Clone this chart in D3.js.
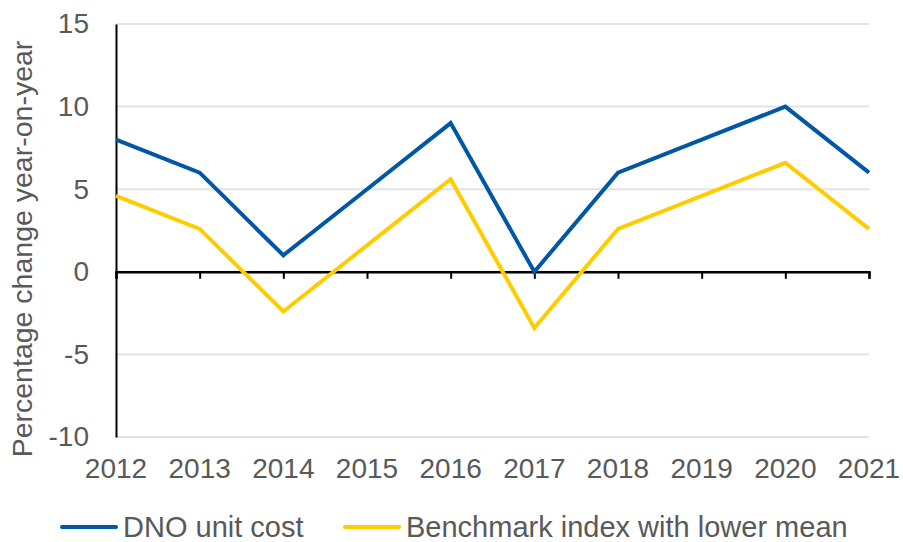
<!DOCTYPE html>
<html>
<head>
<meta charset="utf-8">
<script src="https://cdn.jsdelivr.net/npm/d3@7"></script>
<style>
  html, body { margin: 0; padding: 0; background: #fff; }
  svg { display: block; font-family: "Liberation Sans", Arial, sans-serif; }
</style>
</head>
<body>
<div id="chart"></div>
<script>
// year-on-year change, percent
const years = ['2012', '2013', '2014', '2015', '2016', '2017', '2018', '2019', '2020', '2021'];
const dnoUnitCost = [8, 6, 1, 5, 9, 0, 6, 8, 10, 6];
const benchmarkLowerMean = [4.6, 2.6, -2.4, 1.6, 5.6, -3.4, 2.6, 4.6, 6.6, 2.6];
const yTicks = [-10, -5, 0, 5, 10, 15];

const series = [
  { name: 'DNO unit cost', values: dnoUnitCost, color: '#0057a6' },
  { name: 'Benchmark index with lower mean', values: benchmarkLowerMean, color: '#ffcc00' },
];

const W = 903, H = 542;
const margin = { top: 24, right: 34, bottom: 105, left: 116 };
const w = W - margin.left - margin.right;
const h = H - margin.top - margin.bottom;
const fontSize = '28px';

const svg = d3.select('#chart').append('svg')
  .attr('width', W)
  .attr('height', H);

const g = svg.append('g').attr('transform', `translate(${margin.left},${margin.top})`);

const x = d3.scalePoint().domain(years).range([0, w]);
const y = d3.scaleLinear().domain([-10, 15]).range([h, 0]);

// gridlines
g.selectAll('.grid')
  .data(yTicks)
  .join('line')
  .attr('x1', 0)
  .attr('x2', w)
  .attr('y1', d => y(d))
  .attr('y2', d => y(d))
  .attr('stroke', '#e3e3e3')
  .attr('stroke-width', 2);

// y axis
g.append('g')
  .call(d3.axisLeft(y).tickValues(yTicks).tickSize(0).tickPadding(27).tickFormat(d => String(d)))
  .call(s => s.select('.domain').attr('stroke', '#000').attr('stroke-width', 2))
  .selectAll('text')
  .attr('fill', '#595959')
  .style('font-size', fontSize);

// x axis at zero
g.append('g')
  .attr('transform', `translate(0,${y(0)})`)
  .call(d3.axisBottom(x).tickSize(7).tickFormat(''))
  .call(s => s.select('.domain').attr('stroke', '#000').attr('stroke-width', 2.5))
  .call(s => s.selectAll('.tick line').attr('stroke', '#000').attr('stroke-width', 2));

// year labels below the plot
g.selectAll('.year')
  .data(years)
  .join('text')
  .attr('x', d => x(d))
  .attr('y', h + 41)
  .attr('text-anchor', 'middle')
  .attr('fill', '#595959')
  .style('font-size', fontSize)
  .text(d => d);

// lines
const line = d3.line()
  .x((d, i) => x(years[i]))
  .y(d => y(d));

g.selectAll('.series')
  .data(series)
  .join('path')
  .attr('d', d => line(d.values))
  .attr('fill', 'none')
  .attr('stroke', d => d.color)
  .attr('stroke-width', 4)
  .attr('stroke-linejoin', 'miter');

// y axis title
svg.append('text')
  .attr('transform', `translate(32,249) rotate(-90)`)
  .attr('text-anchor', 'middle')
  .attr('fill', '#595959')
  .style('font-size', '28.5px')
  .text('Percentage change year-on-year');

// legend
const legendX = [62, 345];
const legend = svg.selectAll('.legend')
  .data(series)
  .join('g')
  .attr('transform', (d, i) => `translate(${legendX[i]},527)`);

legend.append('line')
  .attr('x1', 0)
  .attr('x2', 54)
  .attr('stroke', d => d.color)
  .attr('stroke-width', 4)
  .attr('stroke-linecap', 'round');

legend.append('text')
  .attr('x', 61)
  .attr('y', 10)
  .attr('fill', '#595959')
  .style('font-size', '29px')
  .text(d => d.name);
</script>
</body>
</html>
